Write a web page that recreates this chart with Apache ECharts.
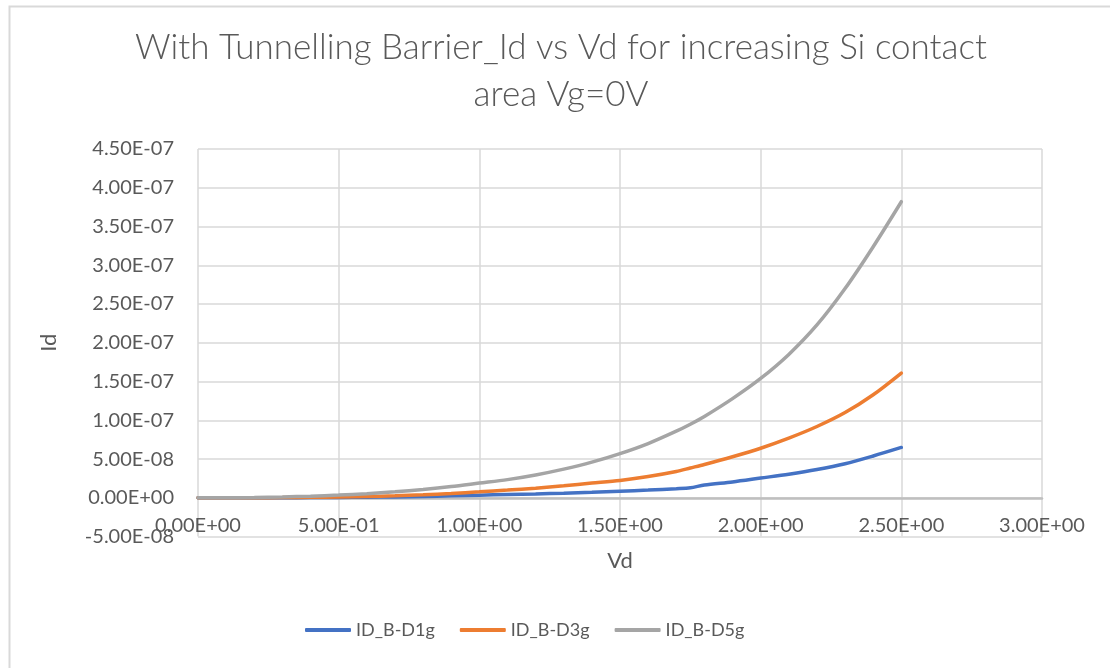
<!DOCTYPE html>
<html>
<head>
<meta charset="utf-8">
<script src="https://cdn.jsdelivr.net/npm/echarts@6/dist/echarts.min.js"></script>
<style>
html,body{margin:0;padding:0;background:#fff;}
#chart{width:1110px;height:668px;}
</style>
</head>
<body>
<div id="chart"></div>
<script>
const vd = [0, 0.1, 0.2, 0.3, 0.4, 0.5, 0.6, 0.7, 0.8, 0.9, 1.0, 1.1, 1.2, 1.3, 1.4, 1.5, 1.6, 1.7, 1.75, 1.8, 1.9, 2.0, 2.1, 2.2, 2.3, 2.4, 2.5];
const idD1g = [0, 0, 5e-11, 1e-10, 3e-10, 5e-10, 8e-10, 1.2e-9, 1.8e-9, 2.6e-9, 3.5e-9, 4.2e-9, 5e-9, 6e-9, 7.2e-9, 8.6e-9, 1.0e-8, 1.18e-8, 1.3e-8, 1.65e-8, 2.05e-8, 2.55e-8, 3.05e-8, 3.65e-8, 4.4e-8, 5.4e-8, 6.5e-8];
const idD3g = [0, 0, 1e-10, 3e-10, 6e-10, 1e-9, 1.7e-9, 2.6e-9, 3.9e-9, 5.6e-9, 7.7e-9, 1.0e-8, 1.25e-8, 1.55e-8, 1.9e-8, 2.25e-8, 2.75e-8, 3.4e-8, 3.85e-8, 4.3e-8, 5.3e-8, 6.4e-8, 7.7e-8, 9.2e-8, 1.1e-7, 1.33e-7, 1.61e-7];
const idD5g = [0, 1e-10, 5e-10, 1.2e-9, 2.2e-9, 3.6e-9, 5.4e-9, 7.8e-9, 1.08e-8, 1.45e-8, 1.9e-8, 2.35e-8, 2.95e-8, 3.7e-8, 4.6e-8, 5.7e-8, 7.0e-8, 8.6e-8, 9.5e-8, 1.05e-7, 1.28e-7, 1.54e-7, 1.85e-7, 2.23e-7, 2.7e-7, 3.24e-7, 3.82e-7];
const seriesNames = ['ID_B-D1g', 'ID_B-D3g', 'ID_B-D5g'];
const titleText = 'With Tunnelling Barrier_Id vs Vd for increasing Si contact\narea Vg=0V';
const xName = 'Vd';
const yName = 'Id';

function sci(v) {
  if (Math.abs(v) < 1e-20) return '0.00E+00';
  let e = Math.floor(Math.log10(Math.abs(v)));
  let m = v / Math.pow(10, e);
  if (Math.abs(Math.round(m * 100) / 100) >= 10) { e += 1; m = v / Math.pow(10, e); }
  return m.toFixed(2) + 'E' + (e < 0 ? '-' : '+') + String(Math.abs(e)).padStart(2, '0');
}
function pairs(xs, ys) { return xs.map((x, i) => [x, ys[i]]); }

const colors = ['#4472C4', '#ED7D31', '#A5A5A5'];
const font = 'Lato, "Open Sans", sans-serif';
const chart = echarts.init(document.getElementById('chart'), null, {renderer: 'canvas'});
chart.setOption({
  animation: false,
  backgroundColor: '#fff',
  color: colors,
  graphic: [{
    type: 'rect', left: 7, top: 4, silent: true,
    shape: {x: 0, y: 0, width: 1200, height: 800},
    style: {fill: 'none', stroke: '#d9d9d9', lineWidth: 2}
  }, {
    type: 'text', x: 561, y: 24, silent: true,
    style: {text: titleText, align: 'center', verticalAlign: 'top', fontFamily: font, fontWeight: 300, fontSize: 35, lineHeight: 47, fill: '#595959'}
  }],
  grid: {left: 198, top: 149, right: 68, bottom: 131.4, containLabel: false},
  legend: {
    bottom: 24, left: 300, itemWidth: 46, itemHeight: 4, itemGap: 25, icon: 'roundRect',
    textStyle: {fontFamily: font, fontSize: 18, color: '#595959'},
    data: seriesNames
  },
  xAxis: {
    type: 'value', min: 0, max: 3, interval: 0.5,
    name: xName, nameLocation: 'middle', nameGap: 13,
    nameTextStyle: {fontFamily: font, fontSize: 22, color: '#595959'},
    axisLine: {show: true, onZero: true, lineStyle: {color: '#bfbfbf', width: 2.5}},
    axisTick: {show: false},
    axisLabel: {formatter: sci, margin: -21, fontFamily: font, fontSize: 20, color: '#595959'},
    splitLine: {show: true, lineStyle: {color: '#d9d9d9', width: 1.5}}
  },
  yAxis: {
    type: 'value', min: -5e-8, max: 4.5e-7, interval: 5e-8,
    name: yName, nameLocation: 'middle', nameGap: 138, nameRotate: 90,
    nameTextStyle: {fontFamily: font, fontSize: 22, color: '#595959'},
    axisLine: {show: false},
    axisTick: {show: false},
    axisLabel: {formatter: sci, margin: 24, fontFamily: font, fontSize: 20, color: '#595959'},
    splitLine: {show: true, lineStyle: {color: '#d9d9d9', width: 1.5}}
  },
  series: [
    {name: seriesNames[0], type: 'line', data: pairs(vd, idD1g), symbol: 'none', smooth: 0.3, lineStyle: {width: 3.5, color: colors[0], cap: 'round'}, z: 3},
    {name: seriesNames[1], type: 'line', data: pairs(vd, idD3g), symbol: 'none', smooth: 0.3, lineStyle: {width: 3.5, color: colors[1], cap: 'round'}, z: 4},
    {name: seriesNames[2], type: 'line', data: pairs(vd, idD5g), symbol: 'none', smooth: 0.3, lineStyle: {width: 3.5, color: colors[2], cap: 'round'}, z: 5}
  ]
});
</script>
</body>
</html>
